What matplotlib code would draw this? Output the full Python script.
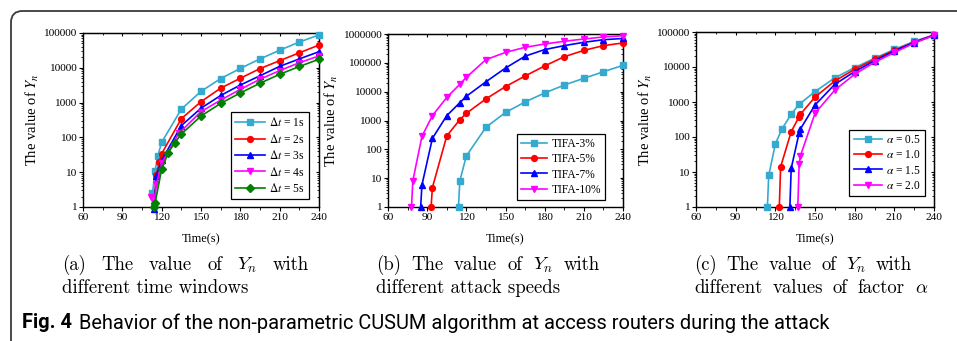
import matplotlib
matplotlib.use("Agg")
import matplotlib.pyplot as plt
from matplotlib.patches import FancyBboxPatch

plt.rcParams['font.family'] = ['Liberation Serif', 'DejaVu Serif']
plt.rcParams['mathtext.fontset'] = 'stix'

# (a) different time windows
dt_labels = [r'$\mathit{\Delta t}$ = 1s', r'$\mathit{\Delta t}$ = 2s', r'$\mathit{\Delta t}$ = 3s',
             r'$\mathit{\Delta t}$ = 4s', r'$\mathit{\Delta t}$ = 5s']
dt1_t = [113, 115, 117, 120, 135, 150, 165, 180, 195, 210, 225, 240]
dt1_y = [2.5, 11, 29, 72, 650, 2100, 4900, 9600, 18000, 32000, 55000, 88000]
dt2_t = [114, 116, 118, 120, 135, 150, 165, 180, 195, 210, 225, 240]
dt2_y = [1, 8.3, 19, 34, 345, 1060, 2600, 5000, 9500, 16000, 27000, 45000]
dt3_t = [114, 116, 120, 135, 150, 165, 180, 195, 210, 225, 240]
dt3_y = [0.85, 8, 22, 218, 690, 1600, 3200, 5900, 11000, 18000, 29000]
dt4_t = [112, 114, 116, 120, 133, 150, 165, 180, 195, 210, 225, 240]
dt4_y = [2, 1, 4.5, 18, 130, 550, 1180, 2400, 4700, 8300, 14000, 22000]
dt5_t = [114, 115, 120, 125, 130, 135, 150, 165, 180, 195, 210, 225, 240]
dt5_y = [1, 1.3, 12.4, 36, 70, 125, 410, 950, 1900, 3600, 6500, 10900, 17600]

# (b) different attack speeds
tifa_labels = ['TIFA-3%', 'TIFA-5%', 'TIFA-7%', 'TIFA-10%']
tifa3_t = [114, 115, 120, 135, 150, 165, 180, 195, 210, 225, 240]
tifa3_y = [1, 8, 59, 580, 1900, 4400, 9000, 17000, 29000, 49000, 82000]
tifa5_t = [93, 94, 105, 115, 120, 135, 150, 165, 180, 195, 210, 225, 240]
tifa5_y = [1, 4.7, 290, 1070, 1770, 5600, 15000, 35000, 78000, 163000, 270000, 395000, 490000]
tifa7_t = [85, 86, 94, 105, 115, 120, 135, 150, 165, 180, 195, 210, 225, 240]
tifa7_y = [1, 5.8, 240, 1470, 4150, 6900, 22000, 66000, 170000, 288000, 395000, 515000, 635000, 700000]
tifa10_t = [78, 79, 86, 94, 105, 115, 120, 135, 150, 165, 180, 195, 210, 225, 240]
tifa10_y = [1, 8, 283, 1470, 6300, 18000, 31500, 129000, 230000, 345000, 450000, 560000,
            670000, 790000, 870000]

# (c) different values of alpha
alpha_labels = [r'$\alpha$ = 0.5', r'$\alpha$ = 1.0', r'$\alpha$ = 1.5', r'$\alpha$ = 2.0']
a05_t = [114, 115, 120, 125, 132, 138, 150, 165, 180, 195, 210, 225, 240]
a05_y = [1, 8, 63, 170, 445, 860, 1980, 4900, 9600, 17700, 31800, 54000, 83000]
a10_t = [123, 124, 132, 138, 139, 150, 165, 180, 195, 210, 225, 240]
a10_y = [1, 14, 142, 380, 450, 1380, 4000, 8600, 16600, 30000, 51500, 81700]
a15_t = [131, 132, 138, 139, 150, 165, 180, 195, 210, 225, 240]
a15_y = [1, 12.7, 130, 170, 820, 3200, 7400, 15000, 28600, 50000, 81000]
a20_t = [137, 138, 139, 150, 165, 180, 195, 210, 225, 240]
a20_y = [1, 16.5, 29, 475, 2200, 6200, 13600, 26000, 48000, 80000]

xticks = [60, 90, 120, 150, 180, 210, 240]

CYAN = '#35AAD0'
colors5 = [CYAN, '#FF0000', '#0000FF', '#FF00FF', '#008000']
markers5 = ['s', 'o', '^', 'v', 'D']

W, H = 957, 341
fig = plt.figure(figsize=(W / 100, H / 100), dpi=100)
renderer = fig.canvas.get_renderer()


def px_axes(l, t, r, b):
    return fig.add_axes([l / W, 1 - b / H, (r - l) / W, (b - t) / H])


def style(ax, ymax):
    ax.set_yscale('log')
    ax.set_xlim(60, 240)
    ax.set_ylim(1, ymax)
    ax.set_xticks(xticks)
    ax.set_xticks(range(75, 240, 30), minor=True)
    ax.yaxis.set_major_formatter(plt.FuncFormatter(lambda v, p: '%d' % round(v)))
    ax.yaxis.set_minor_formatter(plt.NullFormatter())
    ax.tick_params(which='major', direction='out', length=3, width=0.8, labelsize=8.2, pad=1.5)
    ax.tick_params(which='minor', direction='out', length=1.8, width=0.6)
    for s in ax.spines.values():
        s.set_linewidth(1.0)
    top = ax.secondary_xaxis('top')
    top.set_xticks(xticks)
    top.set_xticks(range(75, 240, 30), minor=True)
    top.tick_params(which='both', direction='in', labeltop=False, length=2.5)
    top.tick_params(which='minor', length=1.5)
    right = ax.secondary_yaxis('right')
    right.tick_params(which='both', direction='in', labelright=False, length=2.5)
    right.tick_params(which='minor', length=1.5)
    ax.set_xlabel('Time(s)', fontsize=9, labelpad=8)
    ax.set_ylabel(r'The value of $Y_n$', fontsize=10.5, labelpad=2)


def draw(ax, series, labels, colors, markers, anchor, hl):
    for (t, y), lab, c, m in zip(series, labels, colors, markers):
        ax.plot(t, y, color=c, marker=m, markersize=4.2 if m != 'D' else 3.6, linewidth=1.2,
                label=lab, clip_on=False, zorder=3)
    leg = ax.legend(loc='lower right', bbox_to_anchor=anchor, borderaxespad=0, fontsize=8.3,
                    handlelength=hl, handletextpad=0.35, borderpad=0.35, labelspacing=0.3,
                    fancybox=False, edgecolor='black', framealpha=1)
    leg.get_frame().set_linewidth(0.9)


ax1 = px_axes(83, 33, 319, 207)
style(ax1, 1e5)
draw(ax1, [(dt1_t, dt1_y), (dt2_t, dt2_y), (dt3_t, dt3_y), (dt4_t, dt4_y), (dt5_t, dt5_y)],
     dt_labels, colors5, markers5, ((309 - 83) / 236, 8 / 174), 2.6)

ax2 = px_axes(388, 34, 623, 207)
style(ax2, 1e6)
draw(ax2, [(tifa3_t, tifa3_y), (tifa5_t, tifa5_y), (tifa7_t, tifa7_y), (tifa10_t, tifa10_y)],
     tifa_labels, colors5[:4], markers5[:4], ((605 - 388) / 235, 7 / 173), 2.3)

ax3 = px_axes(696, 32, 934, 207)
style(ax3, 1e5)
draw(ax3, [(a05_t, a05_y), (a10_t, a10_y), (a15_t, a15_y), (a20_t, a20_y)],
     alpha_labels, colors5[:4], markers5[:4], ((925 - 696) / 238, 11 / 175), 2.5)


def fit_size(t, target):
    w = t.get_window_extent(renderer).width
    t.set_fontsize(t.get_fontsize() * target / w)


# sub captions, sized so that "different time windows" is as wide as in the paper
probe = fig.text(0, 0, 'different time windows', transform=None, family='cmr10', fontsize=12)
fit_size(probe, 188)
cap_size = probe.get_fontsize()
probe.remove()
cap_kw = dict(fontsize=cap_size, family='cmr10', math_fontfamily='cm', va='center', ha='left')


def justified(words, x0, x1, y):
    items = [fig.text(0, 0, w, transform=None, **cap_kw) for w in words]
    widths = [it.get_window_extent(renderer).width for it in items]
    gap = (x1 - x0 - sum(widths)) / (len(words) - 1)
    x = x0
    for it, w in zip(items, widths):
        it.set_position((x, H - y))
        x += w + gap


def line(s, x0, y):
    fig.text(x0, H - y, s, transform=None, **cap_kw)


justified(['(a)', 'The', 'value', 'of', r'$Y_n$', 'with'], 62, 309, 265)
line('different time windows', 62, 288)
justified(['(b)', 'The', 'value', 'of', r'$Y_n$', 'with'], 376, 600, 265)
line('different attack speeds', 376, 288)
justified(['(c)', 'The', 'value', 'of', r'$Y_n$', 'with'], 694, 912, 265)
justified(['different', 'values', 'of', 'factor', r'$\alpha$'], 694, 928, 288)

# figure caption: bold label and body text share one size, fitted to the caption width
sans = ['Roboto']
fig_lbl = fig.text(22, H - 323, 'Fig. 4', transform=None, fontsize=12, fontweight='bold',
                   family=sans, va='center', ha='left')
cap = fig.text(0, H - 323, 'Behavior of the non-parametric CUSUM algorithm at access routers during the attack',
               transform=None, fontsize=12, family=sans, va='center', ha='left')
w_lbl = fig_lbl.get_window_extent(renderer).width
w_cap = cap.get_window_extent(renderer).width
scale = (830 - 22) / (w_lbl + w_cap + 6)
fig_lbl.set_fontsize(12 * scale)
cap.set_fontsize(12 * scale)
cap.set_position((22 + w_lbl * scale + 6 * scale, H - 323))

frame = FancyBboxPatch((11 / W, -0.2), 1.2, 1.2 - 11 / H, boxstyle='round,pad=0,rounding_size=0.012',
                       transform=fig.transFigure, fill=False, edgecolor='#3a3a3a', linewidth=1.3,
                       clip_on=True, mutation_aspect=W / H)
fig.patches.append(frame)

fig.savefig('out.png', dpi=100)
